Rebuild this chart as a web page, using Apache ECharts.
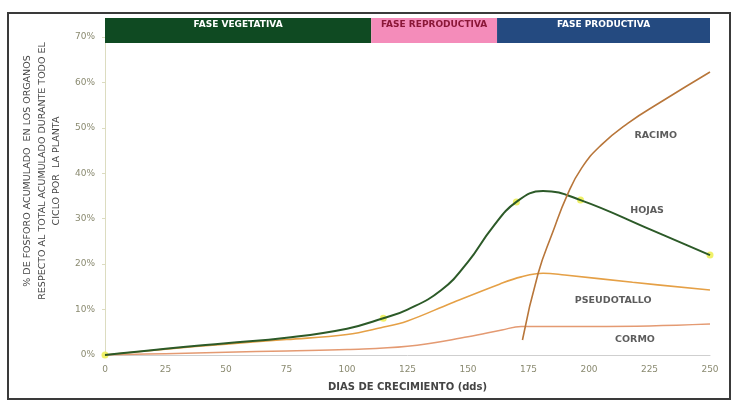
<!DOCTYPE html>
<html lang="es">
  <head>
    <meta charset="UTF-8" />
    <title>Fósforo acumulado</title>
    <script src="https://cdn.jsdelivr.net/npm/echarts@6/dist/echarts.min.js"></script>
  </head>
  <style>
    body,
    html {
      margin: 0;
      height: 100%;
      background: #fff;
    }
  </style>
  <body>
    <div id="chart" style="width:745px;height:409px"></div>
  </body>
  <script>
    // datos (dias, % acumulado)
    var hojasDias = [0, 25, 50, 75, 100, 115, 125, 139, 150, 160, 170, 181, 196.5, 225, 250];
    var hojasPct = [0, 1.4, 2.6, 3.8, 5.8, 8.1, 10.0, 14.3, 20.5, 28, 33.7, 36.1, 34.1, 27.7, 22.0];

    var pseudoDias = [0, 25, 50, 75, 100, 114, 125, 143, 163, 172, 181, 190, 218, 250];
    var pseudoPct = [0, 1.3, 2.4, 3.4, 4.5, 6, 7.5, 11.4, 15.6, 17.2, 18, 17.6, 16, 14.3];

    var cormoDias = [0, 25, 50, 75, 100, 125, 150, 164, 172, 200, 225, 250];
    var cormoPct = [0, 0.3, 0.6, 0.9, 1.2, 1.9, 4, 5.5, 6.3, 6.3, 6.4, 6.8];

    var racimoDias = [172.5, 179, 185, 191, 197, 205, 216, 230, 250];
    var racimoPct = [3.3, 18, 27, 35.2, 41.2, 46.2, 51, 55.8, 62.3];

    // puntos amarillos sobre la curva de hojas
    var marcasDias = [0, 115, 170, 196.5, 250];
    var marcasPct = [0, 8.1, 33.7, 34.1, 22.0];

    // etiquetas de organos
    var organos = ["RACIMO", "HOJAS", "PSEUDOTALLO", "CORMO"];
    var organosDias = [227.6, 224, 210, 219];
    var organosPct = [48.4, 31.7, 11.9, 3.3];

    // fases del cultivo
    var fases = ["FASE VEGETATIVA", "FASE REPRODUCTIVA", "FASE PRODUCTIVA"];
    var fasesInicio = [0, 110, 162];
    var fasesFin = [110, 162, 250];
    var fasesColor = ["#0f4a22", "#f48cba", "#244a80"];
    var fasesTexto = ["#ffffff", "#8a1838", "#ffffff"];

    var xTicks = [0, 25, 50, 75, 100, 125, 150, 175, 200, 225, 250];

    function pares(xs, ys) {
      return xs.map(function(x, i) {
        return [x, ys[i]];
      });
    }

    var FONT = "DejaVu Sans";

    var option = {
      backgroundColor: "#ffffff",
      animation: false,
      graphic: [
        {
          type: "rect",
          shape: { x: 8, y: 13, width: 722, height: 386 },
          style: { fill: "none", stroke: "#3a3a3a", lineWidth: 2 }
        }
      ],
      grid: [
        { left: 105, right: 35, top: 37, bottom: 54 },
        { left: 105, right: 35, top: 18, height: 25 }
      ],
      xAxis: [
        {
          type: "value",
          min: 0,
          max: 250,
          interval: 25,
          name: "DIAS DE CRECIMIENTO (dds)",
          nameLocation: "middle",
          nameGap: 27,
          nameTextStyle: {
            color: "#444",
            fontSize: 10,
            fontFamily: FONT,
            fontWeight: "bold"
          },
          axisLine: { lineStyle: { color: "#cfcfcf", width: 1 } },
          axisTick: { show: false },
          splitLine: { show: false },
          axisLabel: {
            color: "#8a8a70",
            fontSize: 9,
            fontFamily: FONT,
            margin: 10,
            customValues: xTicks
          }
        },
        {
          gridIndex: 1,
          type: "value",
          min: 0,
          max: 250,
          show: false
        }
      ],
      yAxis: [
        {
          type: "value",
          min: 0,
          max: 70,
          interval: 10,
          name:
            "% DE FOSFORO ACUMULADO  EN LOS ORGANOS\nRESPECTO AL TOTAL ACUMULADO DURANTE TODO EL\nCICLO POR  LA PLANTA",
          nameLocation: "middle",
          nameGap: 40,
          nameTextStyle: {
            color: "#444",
            fontSize: 9.5,
            fontFamily: FONT,
            lineHeight: 14.5,
            padding: [0, 0, 0, 50]
          },
          axisLine: { show: true, lineStyle: { color: "#dcdcc0", width: 1 } },
          axisTick: { show: true, length: 3, lineStyle: { color: "#dcdcc0" } },
          splitLine: { show: false },
          axisLabel: {
            formatter: "{value}%",
            color: "#8a8a70",
            fontSize: 9,
            fontFamily: FONT,
            margin: 10
          }
        },
        {
          gridIndex: 1,
          type: "value",
          min: 0,
          max: 1,
          show: false
        }
      ],
      series: [
        {
          name: "CORMO",
          type: "line",
          smooth: 0.4,
          symbol: "none",
          lineStyle: { color: "#e49a72", width: 1.5 },
          data: pares(cormoDias, cormoPct)
        },
        {
          name: "PSEUDOTALLO",
          type: "line",
          smooth: 0.4,
          symbol: "none",
          lineStyle: { color: "#e5a046", width: 1.6 },
          data: pares(pseudoDias, pseudoPct)
        },
        {
          name: "HOJAS",
          type: "line",
          smooth: 0.45,
          symbol: "none",
          lineStyle: { color: "#2c5a28", width: 2 },
          data: pares(hojasDias, hojasPct)
        },
        {
          name: "RACIMO",
          type: "line",
          smooth: 0.5,
          symbol: "none",
          lineStyle: { color: "#b8763a", width: 1.6 },
          data: pares(racimoDias, racimoPct)
        },
        {
          name: "marcas",
          type: "scatter",
          symbolSize: 7,
          itemStyle: { color: "#eef05a", opacity: 0.9 },
          data: pares(marcasDias, marcasPct)
        },
        {
          name: "etiquetas",
          type: "scatter",
          symbolSize: 0,
          label: {
            show: true,
            position: "inside",
            formatter: function(p) {
              return organos[p.dataIndex];
            },
            color: "#333",
            fontSize: 9.5,
            fontWeight: "bold",
            fontFamily: FONT
          },
          data: pares(organosDias, organosPct)
        },
        {
          // franja de fases
          name: "fases",
          type: "line",
          xAxisIndex: 1,
          yAxisIndex: 1,
          data: [],
          markArea: {
            silent: true,
            data: fases.map(function(f, i) {
              return [
                {
                  name: f,
                  xAxis: fasesInicio[i],
                  itemStyle: { color: fasesColor[i] },
                  label: {
                    show: true,
                    position: "insideTop",
                    distance: 2,
                    color: fasesTexto[i],
                    fontSize: 9,
                    fontWeight: "bold",
                    fontFamily: FONT
                  }
                },
                { xAxis: fasesFin[i] }
              ];
            })
          }
        }
      ]
    };

    var chart = echarts.init(document.querySelector("#chart"));
    chart.setOption(option);
  </script>
</html>
